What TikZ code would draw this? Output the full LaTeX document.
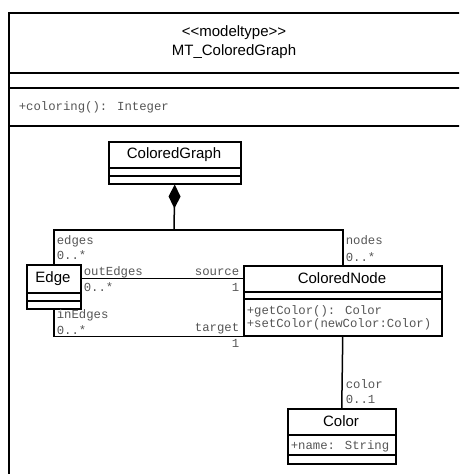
\documentclass[tikz,border=0pt]{standalone}
\usepackage{fontspec}
\setmainfont{Liberation Sans}
\newfontfamily\monof{Liberation Mono}
\usetikzlibrary{arrows.meta}
\definecolor{lbl}{RGB}{85,85,85}
\tikzset{
  box/.style={draw, rectangle, inner sep=0pt, anchor=north west},
  cname/.style={inner sep=0pt, font=\fontsize{15}{18}\selectfont},
  mtxt/.style={inner sep=0pt, text=lbl, font=\monof\fontsize{12.3}{14}\selectfont},
  lw/.style={mtxt, anchor=west},
  le/.style={mtxt, anchor=east},
}
\begin{document}
\begin{tikzpicture}[x=1pt,y=-1pt,line width=1.5pt]
\useasboundingbox (0,0) rectangle (459,474);
\clip (0,0) rectangle (459,474);
% package frame
\draw (9,500) -- (9,13) -- (480,13);
\draw (9,73) -- (480,73);
\draw (9,88) -- (480,88);
\draw (9,126) -- (480,126);
\node[cname] (stereo) at (234,33) {<\kern0pt<modeltype>\kern0pt>};
\node[cname] (mtname) at (234,52) {MT\_ColoredGraph};
\node[mtxt, anchor=west] (coloring) at (18,107) {+coloring(): Integer};
% ColoredGraph
\node[box, minimum width=132pt, minimum height=42pt] (cg) at (108,141) {};
\node[cname] (cgname) at (174,154.5) {ColoredGraph};
\draw (108,168) -- (240,168);
\draw (108,176) -- (240,176);
% Edge
\node[box, minimum width=54pt, minimum height=44pt] (edge) at (26,264) {};
\node[cname] (edgename) at (53,278.5) {Edge};
\draw (26,293) -- (80,293);
\draw (26,301) -- (80,301);
% ColoredNode
\node[box, minimum width=198pt, minimum height=70pt] (cn) at (243,265) {};
\node[cname] (cnname) at (342,278.5) {ColoredNode};
\draw (243,292) -- (441,292);
\draw (243,299) -- (441,299);
\node[lw] (getc) at (246,311) {+getColor(): Color};
\node[lw] (setc) at (246,324) {+setColor(newColor:Color)};
% Color
\node[box, minimum width=108pt, minimum height=55pt] (color) at (287,408) {};
\node[cname] (colorname) at (341,421.5) {Color};
\draw (287,435) -- (395,435);
\draw (287,455) -- (395,455);
\node[lw] (cattr) at (290,446) {+name: String};
% connectors
\coordinate (j) at (174,230);
\draw (edge.north) |- (j) -| (cn.north);
\draw[{Diamond[length=24pt,width=12pt]}-] (cg.south) -- (j);
\draw (edge.east |- edgename) -- (cn.west |- edgename);
\draw (edge.south) |- (cn.south west);
\draw (cn.south) -- (color.north);
% labels
\node[lw] (l1) at (56,241) {edges};
\node[lw] (l2) at (56,255) {0..*};
\node[lw] (l3) at (83,272) {outEdges};
\node[lw] (l4) at (83,287) {0..*};
\node[le] (l5) at (240,272) {source};
\node[le] (l6) at (240,287) {1};
\node[lw] (l7) at (56,315) {inEdges};
\node[lw] (l8) at (56,330) {0..*};
\node[le] (l9) at (240,329) {target};
\node[le] (l10) at (240,343) {1};
\node[lw] (l11) at (345,240) {nodes};
\node[lw] (l12) at (345,257) {0..*};
\node[lw] (l13) at (345,384) {color};
\node[lw] (l14) at (345,399) {0..1};
\end{tikzpicture}
\end{document}
